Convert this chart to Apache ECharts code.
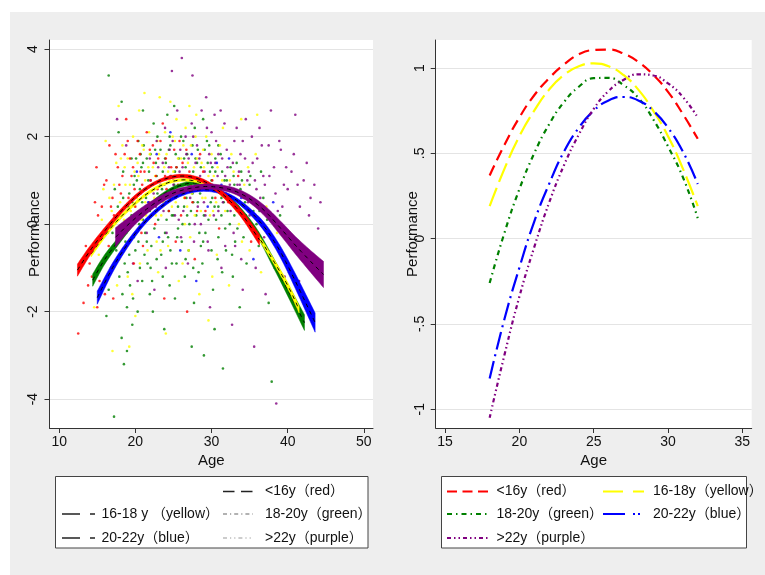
<!DOCTYPE html>
<html><head><meta charset="utf-8">
<script src="https://cdn.jsdelivr.net/npm/echarts@6/dist/echarts.min.js"></script>
<style>
html,body{margin:0;padding:0;background:#fff}
#wrap{position:relative;width:765px;height:575px;overflow:hidden}
#bg{position:absolute;left:10px;top:12px;width:755px;height:563px;background:#eeeeee}
#c{position:absolute;left:0;top:0;width:765px;height:575px}
</style>
</head><body><div id="wrap"><div id="bg"></div><div id="c"></div></div>
<script>
// ---------- Left panel: scatter (Age, Performance) by group ----------
const scatterGreen = [[16.5,3.4],[18.2,2.8],[17.8,2.1],[19.5,1.5],[18.4,1.2],[19.1,0.4],[18.0,-0.3],[18.6,-0.9],[19.3,-1.4],[18.9,-1.9],[19.6,-2.3],[18.2,-2.6],[18.5,-3.2],[17.2,-4.4],[20.4,1.9],[20.8,1.3],[21.2,0.8],[20.1,0.2],[21.5,-0.4],[20.6,-1.0],[21.9,-1.6],[20.3,-2.0],[22.4,2.3],[22.0,1.6],[22.8,1.1],[23.1,0.5],[22.5,-0.1],[23.4,-0.7],[22.2,-1.3],[23.8,-2.4],[24.2,2.5],[24.6,1.8],[24.0,1.4],[25.1,0.9],[24.4,0.3],[25.5,-0.3],[24.8,-0.9],[25.2,-1.7],[26.0,2.0],[26.4,1.5],[25.8,1.1],[26.7,0.6],[26.2,0.0],[27.0,-0.6],[26.5,-1.2],[27.4,-2.8],[27.8,2.2],[28.2,1.7],[27.6,1.2],[28.5,0.7],[28.0,0.2],[28.9,-0.4],[28.3,-1.1],[29.0,-3.0],[29.4,1.9],[30.1,1.3],[29.7,0.9],[30.4,0.4],[29.2,-0.2],[30.8,-0.8],[30.2,-1.5],[31.5,-3.3],[31.2,1.6],[32.0,1.0],[31.6,0.5],[32.4,0.0],[31.9,-0.6],[32.8,-1.2],[33.3,1.4],[33.8,0.8],[33.0,0.2],[34.2,-0.3],[34.6,-0.9],[35.1,1.1],[35.5,0.3],[36.2,-0.5],[36.8,0.6],[37.5,-1.8],[38.3,-1.0],[39.0,0.2],[41.2,-0.4],[37.9,-3.6],[21.7,1.0],[22.9,0.7],[23.6,1.2],[24.9,0.6],[25.6,0.4],[26.9,0.9],[27.3,0.3],[28.7,1.0],[29.9,0.5],[30.6,0.1],[23.3,1.7],[24.5,2.0],[21.0,1.4],[19.8,0.9],[20.9,0.5],[22.6,0.3],[25.3,1.6],[26.6,1.3],[27.9,0.9],[29.5,1.4],[31.0,0.8],[32.6,0.6],[19.4,0.0],[21.3,-0.2],[23.9,-0.2],[26.1,-0.4],[28.6,-0.5],[30.9,-0.3],
[19.2,0.7],[19.9,1.1],[20.5,0.0],[20.7,1.6],[21.4,0.6],[21.8,1.2],[22.1,-0.5],[22.7,1.4],[23.0,0.1],[23.5,0.8],[23.9,1.5],[24.3,-0.3],[24.7,1.1],[25.0,0.2],[25.4,1.3],[25.9,0.7],[26.3,1.9],[26.8,0.2],[27.2,1.1],[27.6,0.5],[28.1,1.4],[28.4,-0.2],[28.8,0.8],[29.1,1.7],[29.6,0.1],[30.0,1.0],[30.5,1.5],[30.9,0.4],[31.4,1.2],[31.8,-0.1],[32.2,0.8],[32.9,1.1],[33.5,0.4],[34.0,1.0],[34.8,0.6],[17.5,-0.6],[17.9,-1.2],[18.3,-1.6],[18.7,-0.4],[19.0,-1.1],[19.7,-1.7],[20.0,-0.6],[20.9,-1.3],[21.6,-0.9],[22.3,-2.0],[17.3,0.8],[16.8,-1.0],[16.2,-2.1],[18.1,0.3],[19.6,0.5],[20.2,1.0],[21.1,1.8],[22.9,2.0],[23.8,0.9],[24.1,0.1],[25.7,1.5],[26.4,0.4],[27.5,1.8],[28.3,0.9],[29.8,1.2],[31.3,0.2],[33.1,-0.4],[34.5,0.2],[35.9,0.0],[36.5,1.2],[37.3,0.1],[38.8,-0.6],[40.2,-1.1],[18.9,-2.9],[24.5,-1.4],[27.7,-1.8],[30.4,-2.4],[33.7,-1.9],[21.0,2.6],[25.1,2.7],[28.9,2.4],
[19.5,0.2],[20.1,1.5],[20.6,0.8],[21.0,0.1],[21.5,1.5],[21.9,0.3],[22.3,0.9],[22.6,1.7],[23.2,1.0],[23.6,-0.4],[24.0,0.5],[24.4,1.7],[24.8,0.2],[25.2,1.2],[25.6,-0.1],[26.0,0.8],[26.4,1.1],[26.8,1.6],[27.1,0.0],[27.5,0.7],[27.9,1.5],[28.2,0.5],[28.6,1.3],[29.0,0.2],[29.3,0.9],[29.7,1.8],[30.1,0.6],[30.5,1.2],[30.9,1.8],[31.3,0.6],[31.7,1.0],[32.1,0.3],[32.5,1.3],[33.0,0.9],[33.4,-0.1],[33.9,1.2],[34.4,0.5],[35.0,0.9],[35.6,-0.2],[36.3,0.3],[18.4,0.6],[18.8,-0.2],[19.2,-0.7],[19.8,-0.3],[20.4,-0.4],[21.2,-0.7],[22.0,-1.0],[22.8,-0.8],[23.6,-1.2],[24.6,-0.6],[25.4,-0.9],[26.6,-0.8],[27.6,-1.0],[28.8,-0.9],[30.0,-0.6],[31.4,-1.1],[32.7,-0.7],[17.0,-0.2],[17.7,0.4],[16.5,-1.5]];
const scatterYellow = [[14.6,-1.9],[15.8,0.8],[16.9,0.3],[17.5,1.4],[17.9,-0.8],[18.7,0.9],[18.3,1.8],[19.2,-2.8],[19.9,1.2],[20.5,2.6],[20.2,0.6],[21.1,1.7],[21.6,-0.6],[21.8,2.1],[22.3,1.3],[22.7,0.2],[23.2,2.9],[23.5,1.0],[23.0,-1.1],[24.1,1.6],[24.7,0.8],[24.3,-0.5],[25.4,2.4],[25.0,1.2],[25.7,-1.3],[26.3,1.8],[26.8,0.4],[27.1,2.7],[27.5,1.0],[27.2,-0.3],[28.1,1.5],[28.8,0.6],[28.4,-1.6],[29.3,2.0],[29.8,0.2],[30.3,1.1],[30.7,-0.7],[31.1,1.8],[31.8,0.3],[32.3,-1.4],[32.9,1.2],[33.6,0.0],[34.3,0.9],[35.0,-0.6],[35.8,1.6],[36.5,-1.1],[37.2,0.4],[38.6,-0.2],[20.0,-2.1],[17.0,-2.9],[24.0,-2.5],[29.6,-2.2],[33.9,2.4],[36.0,2.5],[22.1,0.9],[23.7,0.5],[25.9,0.9],[27.7,1.3],[21.4,0.2],[19.0,1.5],[26.6,2.2],[28.9,1.7],
[16.4,-0.2],[17.2,0.9],[18.0,0.5],[18.6,1.3],[19.4,0.3],[19.7,2.0],[20.3,1.4],[20.8,0.1],[21.3,1.0],[21.9,1.6],[22.5,0.6],[22.9,1.9],[23.4,0.2],[23.8,1.3],[24.5,1.0],[24.9,2.0],[25.3,0.5],[25.6,1.5],[26.1,1.1],[26.5,0.0],[26.9,1.4],[27.4,0.7],[27.9,2.0],[28.3,1.0],[28.6,0.3],[29.0,1.3],[29.5,0.8],[30.0,1.6],[30.6,0.5],[31.4,1.0],[32.0,0.6],[32.6,1.6],[33.2,0.7],[34.0,-0.4],[34.8,1.3],[17.6,-1.4],[18.9,-0.5],[20.6,-0.9],[22.8,-0.4],[16.1,1.9],[15.2,-0.7],[17.8,2.7],[21.2,3.0],[24.6,2.8],[28.0,2.5],[31.5,2.2],[19.6,-1.6],[26.2,-0.9],[30.1,-1.2],
[18.1,1.5],[18.5,0.1],[19.3,0.9],[19.9,0.4],[20.4,1.1],[20.9,1.8],[21.3,0.5],[21.7,1.3],[22.2,0.2],[22.6,1.1],[23.1,1.6],[23.5,0.6],[23.9,2.1],[24.3,1.2],[24.8,0.4],[25.2,1.9],[25.5,0.8],[26.0,1.5],[26.4,0.6],[26.9,1.0],[27.3,1.8],[27.8,0.2],[28.2,0.8],[28.7,1.4],[29.2,0.6],[29.6,1.1],[30.2,0.3],[30.8,1.3],[31.6,0.7],[32.4,1.0],[33.3,0.3],[34.6,0.6],[16.6,0.6],[17.3,-0.5],[15.6,0.1],[19.0,-1.2],[23.3,-0.6],[27.0,-0.6]];
const scatterPurple = [[17.6,2.4],[18.8,1.8],[19.7,-0.9],[20.7,0.7],[21.9,1.5],[22.5,-1.5],[23.3,0.9],[23.9,2.2],[24.8,3.5],[24.6,1.1],[25.2,0.2],[25.9,1.7],[26.1,3.8],[26.4,0.8],[26.9,-0.9],[27.4,2.3],[27.9,1.4],[27.5,3.4],[28.2,0.4],[28.7,2.6],[29.1,1.2],[29.6,-0.6],[30.0,2.1],[30.5,0.8],[30.9,1.6],[31.3,-1.0],[31.7,2.3],[32.1,1.3],[32.5,0.3],[33.0,1.9],[33.4,0.9],[33.9,-0.8],[34.4,1.5],[34.8,0.5],[35.3,2.0],[35.7,1.0],[36.1,-0.2],[36.6,1.8],[37.0,0.9],[37.4,-0.6],[37.8,2.6],[38.2,1.3],[38.7,0.3],[39.1,1.7],[39.6,-1.2],[40.0,0.8],[40.5,1.2],[41.0,2.5],[41.6,0.4],[42.1,1.0],[43.0,0.6],[44.0,-0.1],[38.5,-4.1],[32.7,-2.3],[35.6,-2.8],[29.8,-1.9],[34.1,-1.5],[41.5,-1.3],[22.8,1.9],[24.2,0.6],[27.0,1.5],[28.6,0.0],[30.6,1.9],[31.9,0.7],[33.6,1.2],[35.0,0.2],[36.4,0.6],[39.5,0.9],[25.5,2.6],[29.3,2.9],
[21.2,0.3],[22.0,1.0],[22.7,0.4],[23.6,1.4],[24.1,-0.2],[24.5,1.7],[25.0,0.9],[25.7,0.1],[26.2,1.3],[26.6,2.0],[27.2,0.6],[27.8,0.0],[28.1,1.8],[28.5,1.1],[29.0,0.5],[29.4,2.2],[29.9,1.4],[30.3,0.2],[30.8,1.1],[31.2,2.6],[31.5,0.5],[32.0,1.7],[32.4,0.9],[32.9,-0.2],[33.3,2.2],[33.8,1.6],[34.2,0.6],[34.7,1.0],[35.4,1.4],[35.9,0.8],[36.3,2.2],[36.9,-0.3],[37.6,1.1],[38.0,0.2],[38.9,1.9],[39.3,0.4],[40.3,-0.3],[40.8,1.6],[42.5,1.4],[43.5,0.9],[37.1,-1.6],[31.8,-0.5],[27.7,-0.4],[24.0,-1.0],[20.3,-1.3],[35.8,-1.0],[34.5,2.4],[30.4,2.5],
[22.4,0.7],[23.0,1.3],[23.7,0.3],[24.4,1.3],[24.9,1.9],[25.3,0.6],[25.8,1.2],[26.3,0.3],[26.7,1.6],[27.1,0.9],[27.6,2.0],[28.0,0.8],[28.4,1.5],[28.9,1.0],[29.2,0.2],[29.7,1.6],[30.1,0.9],[30.5,1.4],[30.9,0.3],[31.4,1.5],[31.8,1.1],[32.3,0.6],[32.8,1.4],[33.2,0.4],[33.7,0.9],[34.1,1.9],[34.9,1.2],[35.5,0.5],[36.0,1.5],[36.8,1.1],[37.5,1.8],[38.4,0.7],[39.8,1.3],[41.3,0.9],[42.8,0.2],[44.3,0.5],[26.0,-0.3],[29.5,-0.4],[33.1,-0.5],[21.5,-0.2]];
const scatterRed = [[12.5,-2.5],[13.8,-1.4],[14.4,-0.6],[15.1,0.2],[15.6,-0.9],[16.2,1.0],[16.8,0.4],[17.1,-1.7],[17.7,1.3],[18.1,0.7],[18.5,-0.2],[19.0,1.9],[19.5,1.1],[20.0,0.4],[20.6,1.6],[21.0,-0.5],[21.5,2.1],[22.0,1.0],[22.6,0.0],[23.0,1.5],[23.6,2.3],[24.1,0.8],[24.7,1.3],[25.3,-0.4],[25.8,1.9],[26.5,0.6],[27.1,1.2],[27.8,-0.8],[28.5,1.6],[29.2,0.3],[30.1,1.0],[31.0,-0.1],[32.2,0.5],[33.5,1.1],[35.2,-0.4],[16.0,-1.6],[19.8,-0.9],[23.8,-1.7],[26.8,-2.0],[14.9,1.3],[18.8,2.4],[20.9,0.9],[22.3,1.8],[25.0,1.0],
[14.0,-0.9],[14.7,0.5],[15.4,-0.3],[15.9,0.9],[16.5,-0.5],[17.0,0.6],[17.4,1.6],[17.8,-0.4],[18.3,1.1],[18.9,0.3],[19.3,1.5],[19.9,0.8],[20.3,1.9],[20.8,-0.2],[21.2,1.2],[21.8,0.5],[22.4,1.4],[22.9,0.8],[23.3,1.9],[23.9,1.1],[24.4,0.3],[25.1,1.7],[25.6,0.9],[26.2,1.4],[27.5,0.5],[28.9,1.2],[30.5,0.6],[13.2,-1.8],[15.0,-1.9],[16.6,1.8],
[17.2,0.2],[17.9,0.9],[18.6,1.6],[19.1,0.6],[19.7,1.3],[20.2,0.1],[20.7,1.2],[21.4,0.8],[21.9,1.7],[22.7,1.1],[23.4,0.4],[24.0,1.5],[24.6,0.6],[25.4,1.3],[26.0,0.2],[26.7,1.7],[27.3,0.9],[28.1,0.3],[29.6,0.8],[15.6,0.4],[16.3,-0.2],[14.3,-1.2],[13.5,-0.5],[15.3,-1.3]];
const scatterBlue = [[20.2,1.2],[23.1,-0.3],[26.7,1.0],[29.5,0.4],[32.3,1.5],[35.5,-0.8],[38.1,0.5],[24.6,2.1],[28.0,-1.3],[31.3,0.9],[21.7,0.5],[25.9,-0.6],[27.4,1.6],[30.7,1.4],[33.9,0.6],[22.8,1.6]];

// ---------- Left panel: fitted curves with confidence bands ----------
const bandAgesRed = [12.4,14,16,18,20,22,24,26,28,30,32,34,36.3];
const bandMidRed  = [-1.05,-0.62,-0.15,0.27,0.62,0.88,1.04,1.10,1.05,0.88,0.60,0.22,-0.36];
const bandHalfRed = [0.14,0.11,0.08,0.06,0.05,0.04,0.04,0.04,0.04,0.05,0.07,0.09,0.12];

const bandAgesYellow = [14.2,16,18,20,22,24,26,28,30,32,34,36,38,40,41.5];
const bandMidYellow  = [-0.68,-0.25,0.15,0.48,0.75,0.93,1.01,0.98,0.84,0.58,0.22,-0.25,-0.80,-1.40,-1.95];
const bandHalfYellow = [0.07,0.06,0.05,0.04,0.04,0.03,0.03,0.03,0.03,0.04,0.04,0.05,0.06,0.07,0.08];

const bandAgesGreen = [14.4,16,18,20,22,24,26,28,30,32,34,36,38,40,42.2];
const bandMidGreen  = [-1.28,-0.80,-0.34,0.08,0.44,0.72,0.89,0.94,0.85,0.63,0.28,-0.20,-0.84,-1.50,-2.25];
const bandHalfGreen = [0.14,0.11,0.08,0.06,0.05,0.04,0.04,0.04,0.04,0.05,0.06,0.08,0.11,0.14,0.18];

const bandAgesBlue = [15,17,19,21,23,25,27,29,31,33,35,37,39,41,43.6];
const bandMidBlue  = [-1.68,-1.00,-0.45,0.00,0.34,0.59,0.74,0.79,0.74,0.58,0.30,-0.08,-0.62,-1.30,-2.25];
const bandHalfBlue = [0.15,0.11,0.08,0.06,0.05,0.04,0.04,0.04,0.04,0.05,0.07,0.10,0.13,0.17,0.22];

const bandAgesPurple = [17.4,19,21,23,25,27,29,31,33,35,37,39,41,43,44.7];
const bandMidPurple  = [-0.30,-0.02,0.28,0.53,0.71,0.81,0.86,0.84,0.76,0.58,0.30,-0.08,-0.48,-0.85,-1.15];
const bandHalfPurple = [0.22,0.16,0.12,0.09,0.07,0.06,0.06,0.06,0.07,0.09,0.12,0.16,0.20,0.25,0.30];

// ---------- Right panel: predicted performance by age ----------
const predAges   = [18,19,20,21,22,23,24,25,26,27,28,29,30,31,32];
const predRed    = [0.37,0.55,0.71,0.84,0.94,1.02,1.08,1.105,1.108,1.085,1.036,0.96,0.86,0.73,0.585];
const predYellow = [0.19,0.41,0.60,0.75,0.873,0.959,1.01,1.027,1.01,0.959,0.873,0.75,0.60,0.41,0.19];
const predGreen  = [-0.26,0.035,0.29,0.50,0.67,0.80,0.89,0.94,0.942,0.90,0.825,0.70,0.54,0.36,0.12];
const predBlue   = [-0.82,-0.47,-0.17,0.10,0.32,0.51,0.65,0.75,0.81,0.83,0.81,0.75,0.65,0.51,0.32];
const predPurple = [-1.05,-0.68,-0.34,-0.05,0.21,0.43,0.61,0.76,0.865,0.93,0.963,0.956,0.91,0.83,0.71];

// ---------- Axis ticks ----------
const leftXTicks  = [10,20,30,40,50];
const leftYTicks  = [-4,-2,0,2,4];
const rightXTicks = [15,20,25,30,35];
const rightYTicks = [-1,-0.5,0,0.5,1];

const legendLabels = ['<16y（red）','16-18y（yellow）','18-20y（green）','20-22y（blue）','>22y（purple）'];
const legendLabelsLeft = ['<16y（red）','16-18 y （yellow）','18-20y（green）','20-22y（blue）','>22y（purple）'];

const COL = {red:'#ff0000', yellow:'#ffff00', green:'#008000', blue:'#0000ff', purple:'#800080'};
const FONT = '"Liberation Sans", Arial, "Noto Sans CJK SC", sans-serif';

function pairs(xs, ys){ return xs.map((x,i)=>[x, ys[i]]); }

function axisCommon(ticks, min, max, isY, fmt){
  return {
    type:'value', min:min, max:max,
    axisLine:{show:true, onZero:false, lineStyle:{color:'#333', width:1}},
    axisTick:{show:true, length:5, customValues:ticks, lineStyle:{color:'#333'}},
    axisLabel:{customValues:ticks, color:'#111', fontSize:14, fontFamily:FONT, margin:isY?9:7, rotate:isY?90:0, formatter:fmt},
    splitLine:{show:isY, lineStyle:{color:'#e4e4e4', width:1.2}},
    nameMoveOverlap:false,
    nameTextStyle:{color:'#111', fontSize:15, fontFamily:FONT}
  };
}

// smooth curve through projected points (rendering only)
function smoothPts(p){
  const out=[p[0]];
  for(let i=0;i<p.length-1;i++){
    const p0=p[Math.max(i-1,0)], p1=p[i], p2=p[i+1], p3=p[Math.min(i+2,p.length-1)];
    for(let k=1;k<=8;k++){
      const t=k/8, t2=t*t, t3=t2*t;
      const f=j=>0.5*(2*p1[j]+(-p0[j]+p2[j])*t+(2*p0[j]-5*p1[j]+4*p2[j]-p3[j])*t2+(-p0[j]+3*p1[j]-3*p2[j]+p3[j])*t3);
      out.push([f(0),f(1)]);
    }
  }
  return out;
}

const series = [];
[['green',scatterGreen],['yellow',scatterYellow],['purple',scatterPurple],['red',scatterRed],['blue',scatterBlue]].forEach(([c,d])=>{
  series.push({type:'scatter', xAxisIndex:0, yAxisIndex:0, data:d, symbolSize:2.6, silent:true, z:1,
    itemStyle:{color:COL[c], opacity:0.8}});
});

function addBand(name, ages, mid, half, z){
  series.push({type:'custom', xAxisIndex:0, yAxisIndex:0, silent:true, z:z,
    data:pairs(ages, mid),
    encode:{x:0, y:1},
    renderItem:function(params, api){
      if(params.dataIndex!==0) return null;
      const up = smoothPts(ages.map((a,i)=>api.coord([a, mid[i]+half[i]])));
      const lo = smoothPts(ages.map((a,i)=>api.coord([a, mid[i]-half[i]]))).reverse();
      const ce = smoothPts(ages.map((a,i)=>api.coord([a, mid[i]])));
      return {type:'group', children:[
        {type:'polygon', shape:{points:up.concat(lo)}, style:{fill:COL[name], stroke:COL[name], lineWidth:0.5}},
        {type:'polyline', shape:{points:ce}, style:{stroke:'#000', lineWidth:1, lineDash:[4,4], fill:null}}
      ]};
    }
  });
}
addBand('green', bandAgesGreen, bandMidGreen, bandHalfGreen, 3);
addBand('yellow', bandAgesYellow, bandMidYellow, bandHalfYellow, 4);
addBand('blue', bandAgesBlue, bandMidBlue, bandHalfBlue, 5);
addBand('red', bandAgesRed, bandMidRed, bandHalfRed, 6);
addBand('purple', bandAgesPurple, bandMidPurple, bandHalfPurple, 7);

const rightStyles = [
  ['red', predRed, [11,6]],
  ['yellow', predYellow, [20,6]],
  ['green', predGreen, [5,4,1.5,4]],
  ['blue', predBlue, [18,5,2,5]],
  ['purple', predPurple, [4,3,1.5,3,1.5,3]]
];
rightStyles.forEach(([c,d,dash])=>{
  series.push({type:'line', xAxisIndex:1, yAxisIndex:1, data:pairs(predAges,d), smooth:true, showSymbol:false, silent:true,
    lineStyle:{color:COL[c], width:2.2, type:dash}, z:3});
});

const fmtRightY = v => v===0 ? '0' : String(v).replace('0.', '.');

function txt(x,y,t){ return {type:'text', x:x, y:y, silent:true, style:{text:t, fill:'#111', font:'14px '+FONT, verticalAlign:'middle', textAlign:'left'}}; }
function seg(x1,x2,y,color,w,dash){ return {type:'line', silent:true, shape:{x1:x1,y1:y,x2:x2,y2:y}, style:{stroke:color, lineWidth:w, lineDash:dash}}; }

const rowY = [491.5, 514, 538];
const graphics = [
  {type:'rect', silent:true, shape:{x:55.5, y:476.5, width:312.5, height:71.5}, style:{fill:'#fff', stroke:'#444', lineWidth:1}},
  seg(223,253,rowY[0],'#222',1.5,[11.5,6.5]), txt(265,rowY[0],legendLabelsLeft[0]),
  seg(62,95,rowY[1],'#222',1.5,[18,10,5,50]), txt(101.5,rowY[1],legendLabelsLeft[1]),
  seg(223,253,rowY[1],'#666',1.2,[4,3,1.2,3]), txt(265,rowY[1],legendLabelsLeft[2]),
  seg(62,95,rowY[2],'#222',1.5,[18,10,5,50]), txt(101.5,rowY[2],legendLabelsLeft[3]),
  seg(223,253,rowY[2],'#999',1.2,[4,3,1.2,3,1.2,3]), txt(265,rowY[2],legendLabelsLeft[4]),

  {type:'rect', silent:true, shape:{x:441.5, y:476.5, width:305, height:71.5}, style:{fill:'#fff', stroke:'#444', lineWidth:1}},
  seg(447,489,rowY[0],COL.red,2,[10,5.5]), txt(496.5,rowY[0],legendLabels[0]),
  seg(603,644,rowY[0],COL.yellow,2,[20,10]), txt(653,rowY[0],legendLabels[1]),
  seg(447,489,rowY[1],COL.green,2,[5,4,1.5,4]), txt(496.5,rowY[1],legendLabels[2]),
  seg(603,644,rowY[1],COL.blue,2,[22,8,2,3,2,20]), txt(653,rowY[1],legendLabels[3]),
  seg(447,489,rowY[2],COL.purple,2,[4,3,1.5,3,1.5,3]), txt(496.5,rowY[2],legendLabels[4])
];

const chart = echarts.init(document.getElementById('c'), null, {renderer:'canvas', width:765, height:575});
chart.setOption({
  animation:false,
  backgroundColor:'transparent',
  grid:[
    {left:49.5, top:40, width:323.5, height:388, show:true, backgroundColor:'#fff', borderWidth:0, containLabel:false},
    {left:435.7, top:40, width:316, height:388, show:true, backgroundColor:'#fff', borderWidth:0, containLabel:false}
  ],
  xAxis:[
    Object.assign(axisCommon(leftXTicks, 8.73, 51.2, false), {gridIndex:0, name:'Age', nameLocation:'middle', nameGap:25}),
    Object.assign(axisCommon(rightXTicks, 14.37, 35.63, false), {gridIndex:1, name:'Age', nameLocation:'middle', nameGap:25})
  ],
  yAxis:[
    Object.assign(axisCommon(leftYTicks, -4.66, 4.21, true), {gridIndex:0, name:'Performance', nameLocation:'middle', nameGap:7}),
    Object.assign(axisCommon(rightYTicks, -1.11, 1.164, true, fmtRightY), {gridIndex:1, name:'Performance', nameLocation:'middle', nameGap:15})
  ],
  series:series,
  graphic:graphics
});
</script></body></html>
